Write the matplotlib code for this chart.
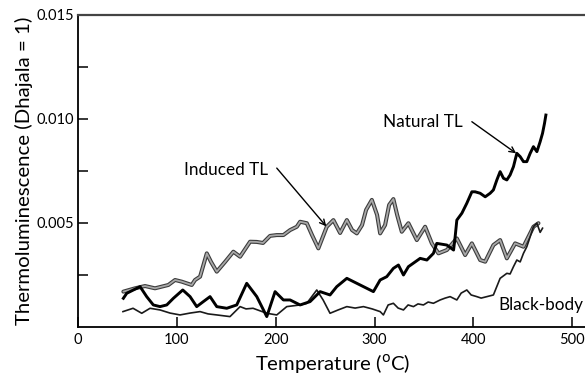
import matplotlib
matplotlib.use("Agg")
import matplotlib.pyplot as plt

plt.rcParams['font.family'] = ['Lato', 'DejaVu Sans']

# Temperature (°C) and Thermoluminescence values
natural_x = [45.9, 49.3, 59.4, 62.8, 69.5, 76.2, 83.0, 89.8, 96.5, 106.0, 113.4, 120.1,
             126.8, 133.6, 140.4, 150.5, 160.6, 170.7, 180.9, 191.0, 199.4, 207.8, 214.6,
             224.7, 234.8, 245.0, 255.0, 261.8, 272.0, 282.1, 292.2, 298.9, 305.7, 312.4,
             319.1, 324.2, 329.3, 334.3, 346.2, 353.0, 359.6, 363.0, 373.2, 380.0, 381.6,
             383.3, 388.4, 393.4, 398.5, 401.8, 406.9, 412.0, 417.0, 420.3, 423.8, 427.1,
             430.5, 433.9, 437.2, 440.6, 444.0, 447.4, 450.7, 454.1, 457.5, 460.8, 464.3,
             467.6, 470.0, 472.0, 473.4]
natural_y = [0.00138, 0.00162, 0.00186, 0.00194, 0.00146, 0.00106, 0.00098, 0.00106,
             0.00138, 0.00178, 0.00146, 0.00098, 0.00122, 0.00146, 0.00098, 0.00090,
             0.00106, 0.00210, 0.00146, 0.00050, 0.00170, 0.00130, 0.00130, 0.00106,
             0.00122, 0.00170, 0.00154, 0.00194, 0.00234, 0.00210, 0.00186, 0.00170,
             0.00226, 0.00242, 0.00282, 0.00298, 0.00250, 0.00290, 0.00330, 0.00322,
             0.00354, 0.00402, 0.00394, 0.00370, 0.00434, 0.00514, 0.00547, 0.00595,
             0.00650, 0.00650, 0.00643, 0.00626, 0.00643, 0.00659, 0.00707, 0.00747,
             0.00715, 0.00707, 0.00731, 0.00771, 0.00835, 0.00819, 0.00795, 0.00795,
             0.00835, 0.00867, 0.00843, 0.00891, 0.00931, 0.00979, 0.01019]

induced_x = [45.9, 57.7, 67.8, 77.9, 91.4, 98.2, 105.0, 110.0, 115.1, 118.4, 123.5, 130.3,
             134.6, 140.4, 148.8, 157.2, 164.0, 174.1, 180.9, 187.2, 194.3, 201.1, 207.8,
             214.6, 221.4, 224.7, 231.5, 236.8, 243.2, 251.7, 258.4, 265.2, 272.0, 277.3,
             282.1, 287.4, 291.5, 297.3, 302.6, 305.7, 310.7, 314.8, 319.1, 322.9, 327.6,
             334.3, 342.8, 351.2, 358.0, 364.7, 373.2, 383.3, 391.7, 398.5, 406.9, 412.0,
             420.3, 427.1, 433.9, 442.3, 450.7, 460.8, 465.9]
induced_y = [0.00170, 0.00186, 0.00197, 0.00186, 0.00202, 0.00226, 0.00218, 0.00210,
             0.00202, 0.00226, 0.00242, 0.00354, 0.00313, 0.00266, 0.00313, 0.00362,
             0.00338, 0.00410, 0.00409, 0.00404, 0.00438, 0.00442, 0.00442, 0.00466,
             0.00482, 0.00506, 0.00499, 0.00442, 0.00378, 0.00482, 0.00514, 0.00452,
             0.00514, 0.00466, 0.00450, 0.00490, 0.00563, 0.00611, 0.00539, 0.00450,
             0.00490, 0.00587, 0.00615, 0.00539, 0.00458, 0.00499, 0.00418, 0.00482,
             0.00402, 0.00354, 0.00370, 0.00426, 0.00346, 0.00402, 0.00322, 0.00314,
             0.00394, 0.00418, 0.00330, 0.00402, 0.00386, 0.00482, 0.00499]

blackbody_x = [45.5, 55.7, 64.5, 72.9, 83.0, 93.1, 103.2, 113.4, 123.5, 131.6, 140.4,
               153.8, 164.0, 170.0, 177.1, 191.0, 201.1, 211.2, 224.7, 231.5, 241.6, 248.0,
               255.0, 263.2, 272.0, 280.4, 288.8, 297.6, 305.7, 309.0, 313.8, 319.1, 323.9,
               329.3, 334.0, 339.4, 344.0, 349.5, 354.3, 359.6, 366.4, 371.5, 376.5, 383.3,
               387.7, 393.4, 397.8, 403.5, 407.9, 413.7, 420.3, 427.1, 433.9, 437.2, 440.6,
               444.0, 447.4, 450.7, 454.1, 457.5, 460.8, 464.3, 467.6, 470.0]
blackbody_y = [0.00074, 0.00090, 0.00066, 0.00090, 0.00082, 0.00067, 0.00058, 0.00067,
               0.00074, 0.00063, 0.00058, 0.00050, 0.00098, 0.00087, 0.00090, 0.00066,
               0.00058, 0.00098, 0.00106, 0.00114, 0.00178, 0.00130, 0.00066, 0.00082,
               0.00098, 0.00091, 0.00098, 0.00087, 0.00074, 0.00058, 0.00106, 0.00114,
               0.00091, 0.00082, 0.00106, 0.00098, 0.00111, 0.00106, 0.00120, 0.00114,
               0.00130, 0.00139, 0.00146, 0.00130, 0.00163, 0.00178, 0.00154, 0.00146,
               0.00139, 0.00146, 0.00154, 0.00234, 0.00258, 0.00255, 0.00290, 0.00322,
               0.00313, 0.00354, 0.00386, 0.00434, 0.00482, 0.00499, 0.00455, 0.00475]

x_ticks = [0, 100, 200, 300, 400, 500]
y_major = [0.005, 0.010, 0.015]
y_minor = [0.0025, 0.0075, 0.0125]

fig = plt.figure(figsize=(5.85, 3.79), dpi=100)
ax = fig.add_axes([78/585, 52/379, 509/585, 312/379])

ax.plot(induced_x, induced_y, color='#3c3c3c', lw=2.9, solid_joinstyle='round',
        solid_capstyle='round', zorder=2)
ax.plot(induced_x, induced_y, color='#a8a8a8', lw=1.3, solid_joinstyle='round',
        solid_capstyle='round', zorder=3)
ax.plot(blackbody_x, blackbody_y, color='#1a1a1a', lw=1.2, solid_joinstyle='round', zorder=4)
ax.plot(natural_x, natural_y, color='black', lw=2.1, solid_joinstyle='round', zorder=5)

ax.set_xlim(0, 515)
ax.set_ylim(0, 0.015)
ax.set_xticks(x_ticks)
ax.set_xticklabels([str(v) for v in x_ticks])
ax.set_yticks(y_major)
ax.set_yticklabels(['0.005', '0.010', '0.015'])
ax.set_yticks(y_minor, minor=True)
ax.tick_params(axis='both', which='both', direction='in', length=7, width=1.1,
               labelsize=10.5, pad=3, colors='black')
ax.tick_params(axis='x', pad=4)

for side in ['left', 'bottom']:
    ax.spines[side].set_linewidth(1.3)
ax.spines['top'].set_linewidth(1.6)
ax.spines['top'].set_color('#444444')
ax.spines['right'].set_visible(False)

ax.set_xlabel('Temperature ($^{\\mathrm{o}}$C)', fontsize=14.6, labelpad=4)
ax.set_ylabel('Thermoluminescence (Dhajala = 1)', fontsize=14.7, labelpad=2)

arrow = dict(arrowstyle='->', color='black', lw=1.0, shrinkA=0, shrinkB=0)
ax.text(389.5, 0.00986, 'Natural TL', fontsize=12.3, ha='right', va='center')
ax.annotate('', xy=(443.3, 0.00835), xytext=(398.5, 0.00987), arrowprops=arrow)
ax.text(192.3, 0.00755, 'Induced TL', fontsize=12.3, ha='right', va='center')
ax.annotate('', xy=(251.2, 0.00484), xytext=(201.1, 0.00764), arrowprops=arrow)
ax.text(425.1, 0.00106, 'Black-body', fontsize=12.3, ha='left', va='center', clip_on=False)

fig.savefig('out.png', dpi=100)
